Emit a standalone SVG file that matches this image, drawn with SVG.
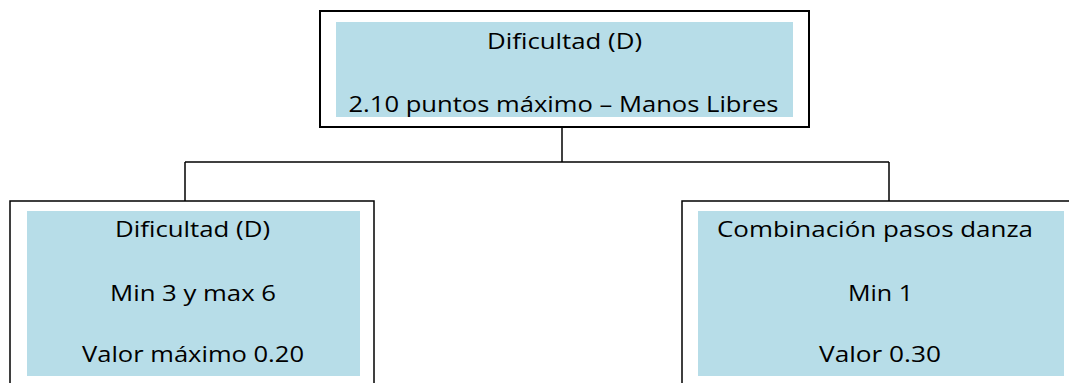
<svg xmlns="http://www.w3.org/2000/svg" width="1069" height="383" viewBox="0 0 1069 383">
  <style>
    .outer { fill: #ffffff; stroke: #000000; stroke-width: 1.5; }
    .outer-top { fill: #ffffff; stroke: #000000; stroke-width: 2; }
    .fill { fill: #B7DDE8; stroke: none; }
    .lbl { font-family: "Open Sans", "Liberation Sans", sans-serif; font-size: 22px; fill: #000000; text-anchor: middle; }
    .conn { fill: none; stroke: #000000; stroke-width: 1.5; }
  </style>
  <rect x="0" y="0" width="1069" height="383" fill="#ffffff"/>
  <g id="connectors">
    <path class="conn" d="M562,127 V162"/>
    <path class="conn" d="M185,162 H889"/>
    <path class="conn" d="M185,162 V201"/>
    <path class="conn" d="M889,162 V201"/>
  </g>
  <g id="node-top">
    <rect class="outer-top" x="320" y="11" width="489" height="116"/>
    <rect class="fill" x="336" y="22" width="457" height="95"/>
    <text class="lbl" x="564.5" y="48.5" textLength="155" lengthAdjust="spacingAndGlyphs">Dificultad (D)</text>
    <text class="lbl" x="563.5" y="111.5" textLength="430" lengthAdjust="spacingAndGlyphs">2.10 puntos máximo – Manos Libres</text>
  </g>
  <g id="node-left">
    <rect class="outer" x="10" y="201" width="364" height="200"/>
    <rect class="fill" x="27" y="211" width="333" height="165"/>
    <text class="lbl" x="192.5" y="237" textLength="155" lengthAdjust="spacingAndGlyphs">Dificultad (D)</text>
    <text class="lbl" x="193" y="300.5" textLength="166" lengthAdjust="spacingAndGlyphs">Min 3 y max 6</text>
    <text class="lbl" x="193" y="362" textLength="222" lengthAdjust="spacingAndGlyphs">Valor máximo 0.20</text>
  </g>
  <g id="node-right">
    <rect class="outer" x="682" y="201" width="400" height="200"/>
    <rect class="fill" x="698" y="211" width="366" height="165"/>
    <text class="lbl" x="875" y="237" textLength="316" lengthAdjust="spacingAndGlyphs">Combinación pasos danza</text>
    <text class="lbl" x="880.5" y="300.5" textLength="65" lengthAdjust="spacingAndGlyphs">Min 1</text>
    <text class="lbl" x="880" y="362" textLength="122" lengthAdjust="spacingAndGlyphs">Valor 0.30</text>
  </g>
</svg>
